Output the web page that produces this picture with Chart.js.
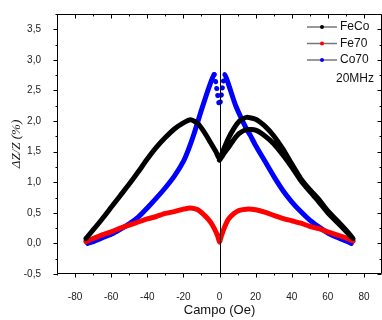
<!DOCTYPE html>
<html>
<head>
<meta charset="utf-8">
<script src="https://cdn.jsdelivr.net/npm/chart.js@4.4.1/dist/chart.umd.min.js"></script>
<style>
  html, body { margin: 0; padding: 0; background: #fff; }
</style>
</head>
<body>
<canvas id="myChart" width="382" height="320"></canvas>
<script>
// ticks
const xMajor = [-80, -60, -40, -20, 0, 20, 40, 60, 80];
const xMinor = [-90, -70, -50, -30, -10, 10, 30, 50, 70, 90];
const yMajor = [-0.5, 0, 0.5, 1, 1.5, 2, 2.5, 3, 3.5];
const yMinor = [-0.25, 0.25, 0.75, 1.25, 1.75, 2.25, 2.75, 3.25, 3.75];

// FeCo : aller (branche haute) puis retour (branche basse a droite)
const fecoX = [-74, -70, -65, -60, -55, -50, -45, -40, -35, -30, -25, -20, -16, -12, -8, -5, -2, 0,
               2, 5, 8, 11, 15, 20, 25, 30, 35, 40, 45, 50, 55, 60, 65, 70, 74,
               70, 65, 60, 55, 50, 45, 40, 35, 30, 25, 20, 15, 11, 8, 5, 2, 0];
const fecoY = [0.08, 0.22, 0.40, 0.59, 0.78, 0.97, 1.17, 1.38, 1.57, 1.73, 1.87, 1.97, 2.02, 1.96, 1.80, 1.65, 1.50, 1.38,
               1.52, 1.72, 1.88, 2.00, 2.06, 2.03, 1.92, 1.76, 1.55, 1.30, 1.06, 0.88, 0.72, 0.53, 0.38, 0.22, 0.08,
               0.20, 0.35, 0.50, 0.68, 0.85, 1.03, 1.25, 1.45, 1.63, 1.76, 1.85, 1.86, 1.80, 1.70, 1.57, 1.45, 1.36];

// Fe70
const fe70X = [-74, -70, -65, -60, -55, -50, -45, -40, -35, -30, -25, -20, -16, -12, -8, -5, -3, -1, 0,
               1, 3, 5, 8, 11, 15, 20, 25, 30, 35, 40, 45, 50, 55, 60, 65, 70, 74];
const fe70Y = [0.03, 0.08, 0.14, 0.19, 0.25, 0.30, 0.35, 0.40, 0.44, 0.49, 0.52, 0.56, 0.58, 0.55, 0.45, 0.35, 0.25, 0.12, 0.02,
               0.12, 0.28, 0.40, 0.49, 0.54, 0.56, 0.55, 0.51, 0.46, 0.41, 0.37, 0.33, 0.28, 0.24, 0.19, 0.14, 0.09, 0.04];

// Co70
const co70X = [-73, -70, -65, -60, -55, -50, -45, -40, -35, -30, -25, -20, -17, -14, -10, -7, -5, -3, -2, -1, 0,
               1, 2, 3, 5, 7, 9, 12, 15, 17, 20, 25, 30, 35, 40, 45, 50, 55, 60, 65, 70, 73];
const co70Y = [0.00, 0.03, 0.09, 0.15, 0.23, 0.32, 0.43, 0.58, 0.74, 0.91, 1.10, 1.34, 1.55, 1.80, 2.18, 2.45, 2.62, 2.76, 2.62, 2.42, 2.25,
               2.42, 2.62, 2.76, 2.60, 2.42, 2.25, 2.05, 1.87, 1.77, 1.60, 1.35, 1.10, 0.87, 0.68, 0.52, 0.38, 0.27, 0.17, 0.10, 0.04, 0.00];

function toPoints(xs, ys) {
    return xs.map((x, i) => ({ x: x, y: ys[i] }));
}

function serie(label, xs, ys, color) {
    return {
        label: label,
        data: toPoints(xs, ys),
        showLine: true,
        borderColor: color,
        backgroundColor: color,
        borderWidth: 5,
        borderCapStyle: 'round',
        borderJoinStyle: 'round',
        pointRadius: 0,
        tension: 0.2
    };
}

// cadre, graduations, ligne x=0 et legende
const cadre = {
    id: 'cadre',
    afterDatasetsDraw(chart) {
        const ctx = chart.ctx, a = chart.chartArea;
        const xs = chart.scales.x, ys = chart.scales.y;
        const L = Math.round(a.left) + 0.5, R = Math.round(a.right) - 0.5;
        const T = Math.round(a.top) + 0.5, B = Math.round(a.bottom) - 0.5;
        ctx.save();
        ctx.strokeStyle = '#000';
        ctx.lineWidth = 1;
        ctx.beginPath();
        const x0 = Math.round(xs.getPixelForValue(0)) + 0.5;
        ctx.moveTo(x0, T); ctx.lineTo(x0, B);
        ctx.rect(L, T, R - L, B - T);
        xMajor.forEach(v => {
            const p = Math.round(xs.getPixelForValue(v)) + 0.5;
            ctx.moveTo(p, B); ctx.lineTo(p, B + 4);
            ctx.moveTo(p, T); ctx.lineTo(p, T + 4);
        });
        xMinor.forEach(v => {
            const p = Math.round(xs.getPixelForValue(v)) + 0.5;
            ctx.moveTo(p, B); ctx.lineTo(p, B + 2);
            ctx.moveTo(p, T); ctx.lineTo(p, T + 2);
        });
        yMajor.forEach(v => {
            const p = Math.round(ys.getPixelForValue(v)) + 0.5;
            ctx.moveTo(L, p); ctx.lineTo(L - 4, p);
            ctx.moveTo(R, p); ctx.lineTo(R - 4, p);
        });
        yMinor.forEach(v => {
            const p = Math.round(ys.getPixelForValue(v)) + 0.5;
            ctx.moveTo(L, p); ctx.lineTo(L - 2, p);
            ctx.moveTo(R, p); ctx.lineTo(R - 2, p);
        });
        ctx.stroke();

        // legende
        ctx.font = '12px "Liberation Sans", Arial, sans-serif';
        ctx.textBaseline = 'middle';
        const rows = [27, 43.5, 60];
        chart.data.datasets.forEach((ds, i) => {
            const y = rows[i];
            ctx.strokeStyle = '#777';
            ctx.lineWidth = 1.5;
            ctx.beginPath();
            ctx.moveTo(307, y); ctx.lineTo(337, y);
            ctx.stroke();
            ctx.fillStyle = ds.borderColor;
            ctx.beginPath();
            ctx.arc(322, y, 2, 0, Math.PI * 2);
            ctx.fill();
            ctx.fillStyle = '#111';
            ctx.textAlign = 'left';
            ctx.fillText(ds.label, 340, y);
        });
        ctx.textAlign = 'right';
        ctx.fillText('20MHz', 374, 79);
        ctx.restore();
    }
};

const co70 = serie('Co70', co70X, co70Y, '#0000ff');
// le creux central de Co70 n'est fait que de points isoles
co70.segment = {
    borderDash: s => (s.p0.parsed.x >= -3 && s.p1.parsed.x <= 3) ? [0.1, 7] : undefined
};

const ctx = document.getElementById('myChart');

new Chart(ctx, {
    type: 'scatter',
    data: {
        datasets: [
            serie('FeCo', fecoX, fecoY, '#000000'),
            serie('Fe70', fe70X, fe70Y, '#ff0000'),
            co70
        ]
    },
    options: {
        responsive: false,
        animation: false,
        layout: { padding: { top: 10, right: 0, left: 0, bottom: 0 } },
        plugins: {
            legend: { display: false },
            tooltip: { enabled: false }
        },
        scales: {
            x: {
                type: 'linear',
                min: -90,
                max: 90,
                grid: { display: false },
                border: { display: false },
                afterBuildTicks: s => { s.ticks = xMajor.map(v => ({ value: v })); },
                afterFit: s => { s.height = 46; },
                ticks: {
                    padding: 9,
                    color: '#222',
                    font: { family: '"Liberation Sans", Arial, sans-serif', size: 10 },
                    callback: v => String(v)
                },
                title: {
                    display: true,
                    text: 'Campo (Oe)',
                    color: '#111',
                    padding: { top: 0, bottom: 2 },
                    font: { family: '"Liberation Sans", Arial, sans-serif', size: 13 }
                }
            },
            y: {
                type: 'linear',
                min: -0.5,
                max: 3.75,
                grid: { display: false },
                border: { display: false },
                afterBuildTicks: s => { s.ticks = yMajor.map(v => ({ value: v })); },
                afterFit: s => { s.width = 57; },
                ticks: {
                    padding: 8,
                    color: '#222',
                    font: { family: '"Liberation Sans", Arial, sans-serif', size: 10 },
                    callback: v => v.toFixed(1).replace('.', ',')
                },
                title: {
                    display: true,
                    text: 'ΔZ/Z (%)',
                    color: '#111',
                    padding: { top: 9, bottom: 0 },
                    font: { family: '"Liberation Serif", "Times New Roman", serif', size: 13, style: 'italic' }
                }
            }
        }
    },
    plugins: [cadre]
});
</script>
</body>
</html>
